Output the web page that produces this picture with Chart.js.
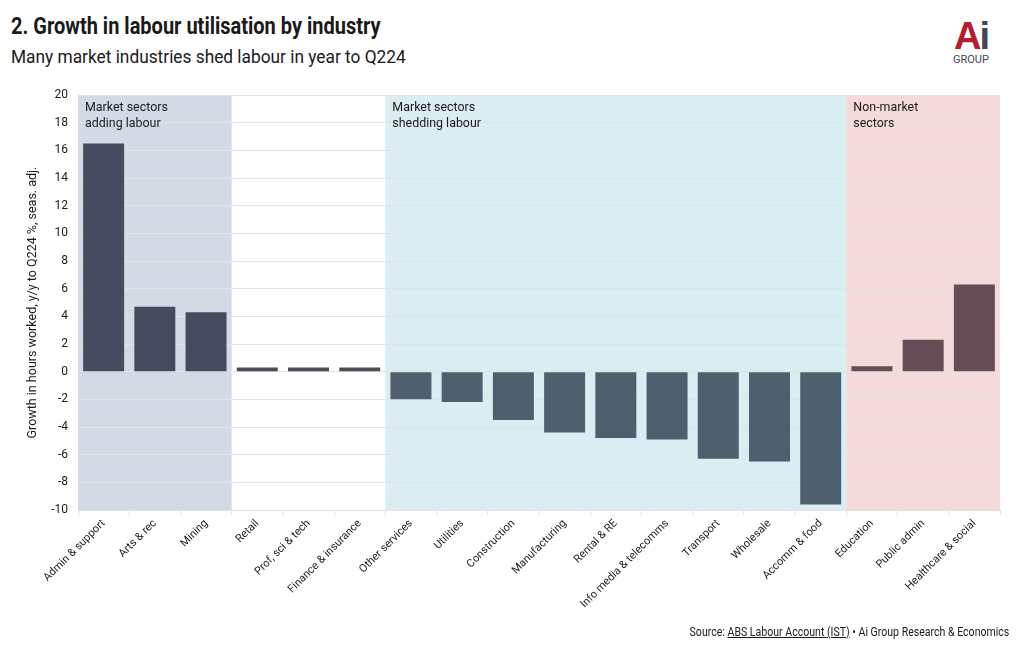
<!DOCTYPE html>
<html>
<head>
<meta charset="utf-8">
<script src="https://cdn.jsdelivr.net/npm/chart.js@4/dist/chart.umd.min.js"></script>
<style>
body{margin:0;background:#fff;font-family:"Roboto",sans-serif;color:#1a1a1a;}
#wrap{position:relative;width:1020px;height:650px;overflow:hidden;}
#title{position:absolute;left:11px;top:13px;font-size:23px;font-weight:bold;transform:scaleX(0.87);transform-origin:left top;white-space:nowrap;}
#subtitle{position:absolute;left:11px;top:45px;font-size:19px;transform:scaleX(0.91);transform-origin:left top;white-space:nowrap;}
#logo{position:absolute;left:945px;top:18px;width:52px;text-align:center;}
#logo .ai{font-family:"Liberation Sans","DejaVu Sans",sans-serif;font-weight:bold;font-size:38px;line-height:36px;color:#b31d2c;letter-spacing:-2px;}
#logo .ai span{color:#3f4757;}
#logo .grp{font-size:11px;color:#3f4757;line-height:12px;margin-top:0;}
#source{position:absolute;right:11px;top:625px;font-size:12px;transform:scaleX(0.88);transform-origin:right top;white-space:nowrap;}
#source u{text-decoration:underline;}
canvas{position:absolute;left:0;top:0;}
</style>
</head>
<body>
<div id="wrap">
<div id="title">2. Growth in labour utilisation by industry</div>
<div id="subtitle">Many market industries shed labour in year to Q224</div>
<div id="logo"><div class="ai">A<span>i</span></div><div class="grp">GROUP</div></div>
<canvas id="chart" width="1020" height="650"></canvas>
<div id="source">Source: <u>ABS Labour Account (IST)</u> • Ai Group Research &amp; Economics</div>
</div>
<script>
/* ================= DATA ================= */

const industries=["Admin & support","Arts & rec","Mining","Retail","Prof, sci & tech","Finance & insurance","Other services","Utilities","Construction","Manufacturing","Rental & RE","Info media & telecomms","Transport","Wholesale","Accomm & food","Education","Public admin","Healthcare & social"];
const growth=[16.5,4.7,4.3,0.3,0.3,0.3,-2.0,-2.2,-3.5,-4.4,-4.8,-4.9,-6.3,-6.5,-9.6,0.4,2.3,6.3];
const groupOf=[0,0,0,1,1,1,2,2,2,2,2,2,2,2,2,3,3,3];
const groupLabels=[["Market sectors","adding labour"],[],["Market sectors","shedding labour"],["Non-market","sectors"]];
const yTicks=[-10,-8,-6,-4,-2,0,2,4,6,8,10,12,14,16,18,20];

/* ================= STYLE ================= */

const barColours=["#434b5e","#4b4b56","#4e5f6e","#644d55"];
const bandColours=["#d3dae5",null,"#daedf3","#f4dadb"];
const FONT='"Roboto",sans-serif';

/* ================= BANDS ================= */

function groupEdges(chart,g){
const x=chart.scales.x;
const half=(x.getPixelForValue(1)-x.getPixelForValue(0))/2;
const idx=groupOf.map((v,i)=>v===g?i:-1).filter(i=>i>=0);
return {
left:x.getPixelForValue(idx[0])-half,
right:x.getPixelForValue(idx[idx.length-1])+half
};
}

const bandsPlugin={
id:"bands",
beforeDraw(chart){
const {ctx,chartArea}=chart;
bandColours.forEach((c,g)=>{
if(!c) return;
const e=groupEdges(chart,g);
ctx.save();
ctx.fillStyle=c;
ctx.fillRect(e.left,chartArea.top,e.right-e.left,chartArea.bottom-chartArea.top);
ctx.restore();
});
},
beforeDatasetsDraw(chart){
const {ctx,chartArea}=chart;
groupLabels.forEach((lines,g)=>{
const e=groupEdges(chart,g);
ctx.save();
ctx.fillStyle="#1a1a1a";
ctx.font="13.5px "+FONT;
ctx.textBaseline="top";
ctx.translate(e.left+7,chartArea.top+6);
ctx.scale(0.92,1);
lines.forEach((line,k)=>ctx.fillText(line,0,k*16));
ctx.restore();
});
}
};

/* ================= CHART ================= */

new Chart(document.getElementById("chart"),{
type:"bar",
data:{
labels:industries,
datasets:[{
data:growth,
backgroundColor:groupOf.map(g=>barColours[g]),
barPercentage:0.8,
categoryPercentage:1
}]
},
options:{
responsive:false,
animation:false,
layout:{padding:{left:25,top:95,right:20,bottom:0}},
plugins:{legend:{display:false},tooltip:{enabled:false}},
scales:{
x:{
afterFit(s){s.height=140;},
grid:{drawOnChartArea:false,color:"#e2e2e2",tickLength:5},
border:{display:false},
ticks:{minRotation:45,maxRotation:45,color:"#1a1a1a",font:{family:FONT,size:11},padding:2}
},
y:{
min:-10,max:20,
afterFit(s){s.width=53;},
afterBuildTicks(s){s.ticks=yTicks.map(v=>({value:v}));},
grid:{color:"#e3e3e3",drawTicks:false},
border:{display:false},
ticks:{color:"#1a1a1a",font:{family:FONT,size:12},padding:10},
title:{display:true,text:"Growth in hours worked, y/y to Q224 %, seas. adj.",color:"#1a1a1a",font:{family:FONT,size:12.5},padding:{top:0,bottom:4}}
}
}
},
plugins:[bandsPlugin]
});
</script>
</body>
</html>
